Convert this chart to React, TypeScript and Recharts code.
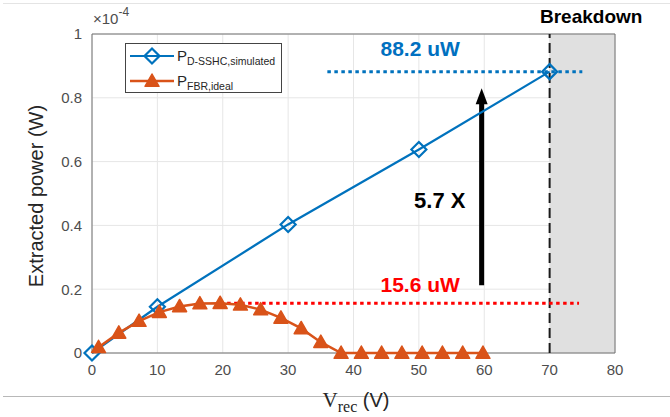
import React from 'react';
import {
  LineChart,
  Line,
  XAxis,
  YAxis,
  CartesianGrid,
  ReferenceArea,
  ReferenceLine,
  ReferenceDot,
  Legend,
} from 'recharts';

// values in units of 1e-4 W
const vSim = [0, 10, 30, 50, 70];
const pSim = [0, 0.145, 0.403, 0.638, 0.882];

const vFbr = [1, 4.1, 7.2, 10.3, 13.4, 16.5, 19.6, 22.7, 25.8, 28.9, 32, 35, 38.1, 41.2, 44.3, 47.4, 50.5, 53.6, 56.7, 59.8];
const pFbr = [0.018, 0.063, 0.1, 0.128, 0.146, 0.155, 0.156, 0.151, 0.136, 0.11, 0.077, 0.034, 0, 0, 0, 0, 0, 0, 0, 0];

const xTicks = [0, 10, 20, 30, 40, 50, 60, 70, 80];
const yTicks = [0, 0.2, 0.4, 0.6, 0.8, 1];

const simData = vSim.map((v, i) => ({ v, p: pSim[i] }));
const fbrData = vFbr.map((v, i) => ({ v, p: pFbr[i] }));

const BLUE = '#0072BD';
const ORANGE = '#D95319';
const SANS = '"Liberation Sans", Arial, sans-serif';
const SERIF = '"Liberation Serif", "DejaVu Serif", serif';

const Diamond = (props: any) => {
  const { cx, cy } = props;
  if (cx == null || cy == null) return null;
  const s = 7.5;
  return (
    <polygon
      points={`${cx},${cy - s} ${cx + s},${cy} ${cx},${cy + s} ${cx - s},${cy}`}
      fill="none"
      stroke={BLUE}
      strokeWidth={2.2}
    />
  );
};

const Triangle = (props: any) => {
  const { cx, cy } = props;
  if (cx == null || cy == null) return null;
  const s = 7;
  return (
    <polygon
      points={`${cx},${cy - s} ${cx + s},${cy + s * 0.75} ${cx - s},${cy + s * 0.75}`}
      fill={ORANGE}
      stroke={ORANGE}
      strokeWidth={1.5}
      strokeLinejoin="round"
    />
  );
};

const Arrow = (props: any) => {
  const { x1, y1, y2 } = props;
  const top = Math.min(y1, y2);
  const bottom = Math.max(y1, y2);
  return (
    <g>
      <line x1={x1} y1={bottom} x2={x1} y2={top + 14} stroke="#000" strokeWidth={5} />
      <polygon points={`${x1},${top} ${x1 + 6},${top + 16} ${x1 - 6},${top + 16}`} fill="#000" />
    </g>
  );
};

const LegendBox = () => (
  <div
    style={{
      border: '1px solid #444',
      background: '#fff',
      width: 157,
      height: 50,
      boxSizing: 'border-box',
      fontFamily: SANS,
    }}
  >
    <svg width={155} height={48}>
      <line x1={4} y1={12} x2={48} y2={12} stroke={BLUE} strokeWidth={2.2} />
      <Diamond cx={26} cy={12} />
      <text x={51} y={17} fontSize={15} fill="#262626">
        P<tspan fontSize={10.5} dy={4}>D-SSHC,simulated</tspan>
      </text>
      <line x1={4} y1={37} x2={48} y2={37} stroke={ORANGE} strokeWidth={2.5} />
      <Triangle cx={26} cy={37} />
      <text x={51} y={42} fontSize={15} fill="#262626">
        P<tspan fontSize={10.5} dy={4}>FBR,ideal</tspan>
      </text>
    </svg>
  </div>
);

const tickStyle = { fontFamily: SANS, fontSize: 15, fill: '#4d4d4d' };
const noteStyle = { position: 'center' as const, fontSize: 21, fontWeight: 'bold', fontFamily: SANS };

export default function App() {
  return (
    <div style={{ position: 'absolute', left: 0, top: 0, width: 670, height: 417, background: '#fff' }}>
      <div style={{ position: 'absolute', left: 3, right: 0, top: 3, height: 1, background: '#e4e4e4' }} />
      <div style={{ position: 'absolute', left: 3, right: 0, top: 396, height: 1, background: '#b8b8b8' }} />
      <div
        style={{
          position: 'absolute',
          left: 93,
          top: 10,
          fontFamily: SANS,
          fontSize: 15,
          color: '#4d4d4d',
        }}
      >
        ×10<sup style={{ fontSize: 12, verticalAlign: 'top', position: 'relative', top: -5 }}>-4</sup>
      </div>
      <div
        style={{
          position: 'absolute',
          left: 540,
          top: 6,
          fontFamily: SANS,
          fontSize: 19,
          fontWeight: 'bold',
          color: '#000',
        }}
      >
        Breakdown
      </div>
      <LineChart width={670} height={417} margin={{ top: 34, right: 55, bottom: 24, left: 0 }}>
        <CartesianGrid stroke="#e6e6e6" />
        <XAxis
          type="number"
          dataKey="v"
          domain={[0, 80]}
          ticks={xTicks}
          height={40}
          tickLine={false}
          tickSize={9}
          axisLine={false}
          tick={tickStyle}
          allowDuplicatedCategory={false}
          label={{
            content: () => (
              <text x={356} y={407} textAnchor="middle" fill="#262626" fontSize={21}>
                <tspan fontFamily={SERIF}>V</tspan>
                <tspan fontFamily={SERIF} fontSize={16} dy={5}>rec</tspan>
                <tspan fontFamily={SANS} fontSize={20} dy={-5}> (V)</tspan>
              </text>
            ),
          }}
        />
        <YAxis
          type="number"
          domain={[0, 1]}
          ticks={yTicks}
          width={92}
          tickLine={false}
          tickSize={8}
          axisLine={false}
          tick={tickStyle}
          label={{
            content: () => (
              <text
                x={43}
                y={196}
                transform="rotate(-90, 43, 196)"
                textAnchor="middle"
                fontFamily={SANS}
                fontSize={20}
                fill="#262626"
              >
                Extracted power (W)
              </text>
            ),
          }}
        />
        <ReferenceArea x1={70} x2={80} y1={0} y2={1} fill="#e0e0e0" fillOpacity={1} stroke="none" />
        <ReferenceArea x1={0} x2={80} y1={0} y2={1} fill="none" stroke="#707070" strokeWidth={1} />
        <ReferenceLine x={70} stroke="#1a1a1a" strokeWidth={2} strokeDasharray="10 5" />
        <ReferenceLine
          segment={[{ x: 36, y: 0.882 }, { x: 75, y: 0.882 }]}
          stroke={BLUE}
          strokeWidth={3}
          strokeDasharray="3.5 3.5"
        />
        <ReferenceLine
          segment={[{ x: 19.6, y: 0.156 }, { x: 74.5, y: 0.156 }]}
          stroke="#ff0000"
          strokeWidth={3}
          strokeDasharray="3.5 3.5"
        />
        <ReferenceLine segment={[{ x: 59.6, y: 0.212 }, { x: 59.6, y: 0.83 }]} shape={Arrow} />
        <ReferenceDot x={50.2} y={0.953} r={1} fill="none" stroke="none" label={{ ...noteStyle, value: '88.2 uW', fill: '#0070C0' }} />
        <ReferenceDot x={50.2} y={0.216} r={1} fill="none" stroke="none" label={{ ...noteStyle, value: '15.6 uW', fill: '#ff0000' }} />
        <ReferenceDot x={53.2} y={0.48} r={1} fill="none" stroke="none" label={{ ...noteStyle, value: '5.7 X', fill: '#000', fontSize: 22 }} />
        <Line
          data={simData}
          dataKey="p"
          type="linear"
          stroke={BLUE}
          strokeWidth={2.2}
          dot={<Diamond />}
          isAnimationActive={false}
        />
        <Line
          data={fbrData}
          dataKey="p"
          type="linear"
          stroke={ORANGE}
          strokeWidth={2.5}
          dot={<Triangle />}
          isAnimationActive={false}
        />
        <Legend
          layout="horizontal"
          verticalAlign="middle"
          align="center"
          wrapperStyle={{ left: 125, top: 43, width: 157 }}
          content={() => <LegendBox />}
        />
      </LineChart>
    </div>
  );
}
